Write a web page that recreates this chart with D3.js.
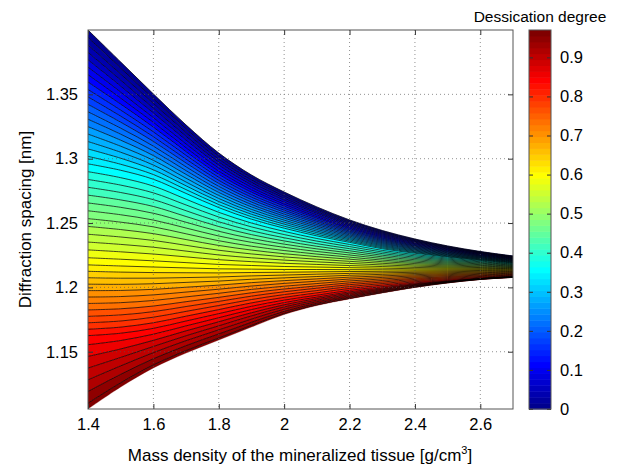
<!DOCTYPE html>
<html>
<head>
<meta charset="utf-8">
<script src="https://cdn.jsdelivr.net/npm/d3@7"></script>
<style>
  body { margin: 0; background: #fff; }
  text { font-family: "Liberation Sans", Arial, Helvetica, sans-serif; fill: #000; }
</style>
</head>
<body>
<div id="chart"></div>
<script>
// mass density samples (x)
const density = [1.4, 1.5, 1.6, 1.7, 1.8, 1.9, 2.0, 2.1, 2.2, 2.3, 2.4, 2.5, 2.6, 2.7];

const anchorLevels = [0, 0.36, 0.61, 0.85, 0.97];

// diffraction spacing [nm] for each anchor level, one value per density sample
const spacingDry000 = [1.400, 1.3751, 1.3503, 1.3262, 1.3044, 1.2873, 1.2741, 1.2625, 1.2524, 1.2442, 1.2376, 1.2322, 1.2279, 1.2244];
const spacingDry036 = [1.296, 1.291, 1.284, 1.273, 1.262, 1.253, 1.246, 1.240, 1.235, 1.230, 1.2265, 1.2235, 1.221, 1.219];
const spacingDry061 = [1.220, 1.219, 1.218, 1.217, 1.216, 1.2155, 1.215, 1.2148, 1.2145, 1.2143, 1.214, 1.214, 1.214, 1.214];
const spacingDry085 = [1.160, 1.162, 1.166, 1.172, 1.178, 1.184, 1.189, 1.193, 1.197, 1.200, 1.203, 1.205, 1.207, 1.2085];
const spacingDry097 = [1.1055, 1.1226, 1.1374, 1.1490, 1.1591, 1.1692, 1.1789, 1.1859, 1.1910, 1.1956, 1.1999, 1.2034, 1.2061, 1.2077];

// contour levels of the filled contour plot
const contourLevels = [0, 0.02, 0.04, 0.06, 0.08, 0.10, 0.12, 0.14, 0.16, 0.18,
  0.20, 0.22, 0.24, 0.26, 0.28, 0.30, 0.32, 0.34, 0.36, 0.38,
  0.40, 0.42, 0.44, 0.46, 0.48, 0.50, 0.52, 0.54, 0.56, 0.58,
  0.60, 0.62, 0.64, 0.66, 0.68, 0.70, 0.72, 0.74, 0.76, 0.78,
  0.80, 0.82, 0.84, 0.86, 0.88, 0.90, 0.92, 0.94, 0.96];
const maxLevel = 0.97;

const xTicks = [1.4, 1.6, 1.8, 2, 2.2, 2.4, 2.6];
const yTicks = [1.15, 1.2, 1.25, 1.3, 1.35];
const cbTicks = [0, 0.1, 0.2, 0.3, 0.4, 0.5, 0.6, 0.7, 0.8, 0.9];

const W = 620, H = 466;
const plot = {left: 88, right: 513, top: 30, bottom: 409};
const cb = {left: 529, right: 551};
const FONT = "Liberation Sans, Arial, sans-serif";
const tickFont = 16.5, labelFont = 17;

const svg = d3.select("#chart").append("svg")
  .attr("width", W).attr("height", H);

const x = d3.scaleLinear().domain([1.4, 2.7]).range([plot.left, plot.right]);
const y = d3.scaleLinear().domain([1.1055, 1.400]).range([plot.bottom, plot.top]);

// matlab jet(64)
function jetMap(n) {
  const J = d3.range(n).map(() => [0, 0, 0]);
  const m = Math.ceil(n / 4);
  const u = [];
  for (let i = 1; i <= m; i++) u.push(i / m);
  for (let i = 1; i < m; i++) u.push(1);
  for (let i = m; i >= 1; i--) u.push(i / m);
  const g0 = Math.ceil(m / 2) - (n % 4 === 1 ? 1 : 0);
  u.forEach((v, i) => {
    const g = g0 + i + 1, r = g + m, b = g - m;
    if (g >= 1 && g <= n) J[g - 1][1] = v;
    if (r >= 1 && r <= n) J[r - 1][0] = v;
    if (b >= 1 && b <= n) J[b - 1][2] = v;
  });
  return J.map(c => d3.rgb(c[0] * 255, c[1] * 255, c[2] * 255).toString());
}
const jet = jetMap(64);
const colorOf = v => jet[Math.max(0, Math.min(63, Math.floor(v / maxLevel * 64)))];

const anchorRows = [spacingDry000, spacingDry036, spacingDry061, spacingDry085, spacingDry097];
function curveFor(level) {
  return density.map((d, j) => {
    const s = d3.scaleLinear().domain(anchorLevels).range(anchorRows.map(r => r[j]));
    return [d, s(level)];
  });
}

svg.append("defs").append("clipPath").attr("id", "clip")
  .append("rect").attr("x", plot.left).attr("y", plot.top)
  .attr("width", plot.right - plot.left).attr("height", plot.bottom - plot.top);

const g = svg.append("g").attr("clip-path", "url(#clip)");

const bounds = contourLevels.concat([maxLevel]);
const curves = bounds.map(curveFor);
const smooth = d3.curveCatmullRom.alpha(0.5);

const area = d3.area()
  .x(d => x(d[0]))
  .y0(d => y(d[1]))
  .y1(d => y(d[2]))
  .curve(smooth);

contourLevels.forEach((lv, i) => {
  const top = curves[i], bot = curves[i + 1];
  const pts = top.map((p, j) => [p[0], bot[j][1], p[1]]);
  g.append("path")
    .attr("d", area(pts))
    .attr("fill", colorOf(lv))
    .attr("stroke", colorOf(lv))
    .attr("stroke-width", 0.3);
});

const line = d3.line().x(d => x(d[0])).y(d => y(d[1])).curve(smooth);
contourLevels.forEach((lv, i) => {
  g.append("path")
    .attr("d", line(curves[i]))
    .attr("fill", "none")
    .attr("stroke", "#000")
    .attr("stroke-width", 0.7);
});

// dotted grid on top
const grid = svg.append("g")
  .attr("stroke", "#555").attr("stroke-width", 0.8)
  .attr("stroke-dasharray", "1,3").attr("opacity", 0.8);
xTicks.slice(1).forEach(t => grid.append("line")
  .attr("x1", x(t)).attr("x2", x(t)).attr("y1", plot.top).attr("y2", plot.bottom));
yTicks.forEach(t => grid.append("line")
  .attr("x1", plot.left).attr("x2", plot.right).attr("y1", y(t)).attr("y2", y(t)));

// axes (ticks inside, on all sides)
const ax = svg.append("g");
ax.append("g").attr("transform", `translate(0,${plot.bottom})`)
  .call(d3.axisBottom(x).tickValues(xTicks).tickSizeInner(-5).tickSizeOuter(0).tickPadding(9)
    .tickFormat(d3.format("")));
ax.append("g").attr("transform", `translate(0,${plot.top})`)
  .call(d3.axisTop(x).tickValues(xTicks).tickSizeInner(-5).tickSizeOuter(0).tickFormat(""));
ax.append("g").attr("transform", `translate(${plot.left},0)`)
  .call(d3.axisLeft(y).tickValues(yTicks).tickSizeInner(-5).tickSizeOuter(0).tickPadding(10)
    .tickFormat(d3.format("")));
ax.append("g").attr("transform", `translate(${plot.right},0)`)
  .call(d3.axisRight(y).tickValues(yTicks).tickSizeInner(-5).tickSizeOuter(0).tickFormat(""));
ax.selectAll(".domain").remove();
ax.selectAll(".tick line").attr("stroke", "#333");
ax.selectAll("text").attr("font-size", tickFont).attr("font-family", FONT).attr("fill", "#000");

svg.append("rect")
  .attr("x", plot.left).attr("y", plot.top)
  .attr("width", plot.right - plot.left).attr("height", plot.bottom - plot.top)
  .attr("fill", "none").attr("stroke", "#555").attr("stroke-width", 1);

// axis labels
svg.append("text")
  .attr("transform", `translate(31,${(plot.top + plot.bottom) / 2}) rotate(-90)`)
  .attr("text-anchor", "middle").attr("font-size", labelFont)
  .text("Diffraction spacing [nm]");

const xl = svg.append("text")
  .attr("x", 300).attr("y", 461)
  .attr("text-anchor", "middle").attr("font-size", labelFont);
xl.append("tspan").text("Mass density of the mineralized tissue [g/cm");
xl.append("tspan").attr("font-size", 11).attr("dy", -7).text("3");
xl.append("tspan").attr("dy", 7).text("]");

// colorbar
const cy = d3.scaleLinear().domain([0, maxLevel]).range([plot.bottom, plot.top]);
const cbg = svg.append("g");
jet.forEach((c, i) => {
  const v0 = i / 64 * maxLevel, v1 = (i + 1) / 64 * maxLevel;
  cbg.append("rect")
    .attr("x", cb.left).attr("width", cb.right - cb.left)
    .attr("y", cy(v1)).attr("height", cy(v0) - cy(v1) + 0.5)
    .attr("fill", c);
});
cbg.append("g").attr("transform", `translate(${cb.right},0)`)
  .call(d3.axisRight(cy).tickValues(cbTicks).tickSizeInner(-4).tickSizeOuter(0).tickPadding(9)
    .tickFormat(d3.format("")))
  .call(s => s.select(".domain").remove())
  .call(s => s.selectAll("text").attr("font-size", tickFont).attr("font-family", FONT).attr("fill", "#000"))
  .call(s => s.selectAll("line").attr("stroke", "#333"));
cbg.append("g").attr("transform", `translate(${cb.left},0)`)
  .call(d3.axisLeft(cy).tickValues(cbTicks).tickSizeInner(-4).tickSizeOuter(0).tickFormat(""))
  .call(s => s.select(".domain").remove())
  .call(s => s.selectAll("line").attr("stroke", "#333"));
cbg.append("rect")
  .attr("x", cb.left).attr("y", plot.top)
  .attr("width", cb.right - cb.left).attr("height", plot.bottom - plot.top)
  .attr("fill", "none").attr("stroke", "#555");

svg.append("text")
  .attr("x", 540).attr("y", 22)
  .attr("text-anchor", "middle").attr("font-size", 15.5)
  .text("Dessication degree");
</script>
</body>
</html>
